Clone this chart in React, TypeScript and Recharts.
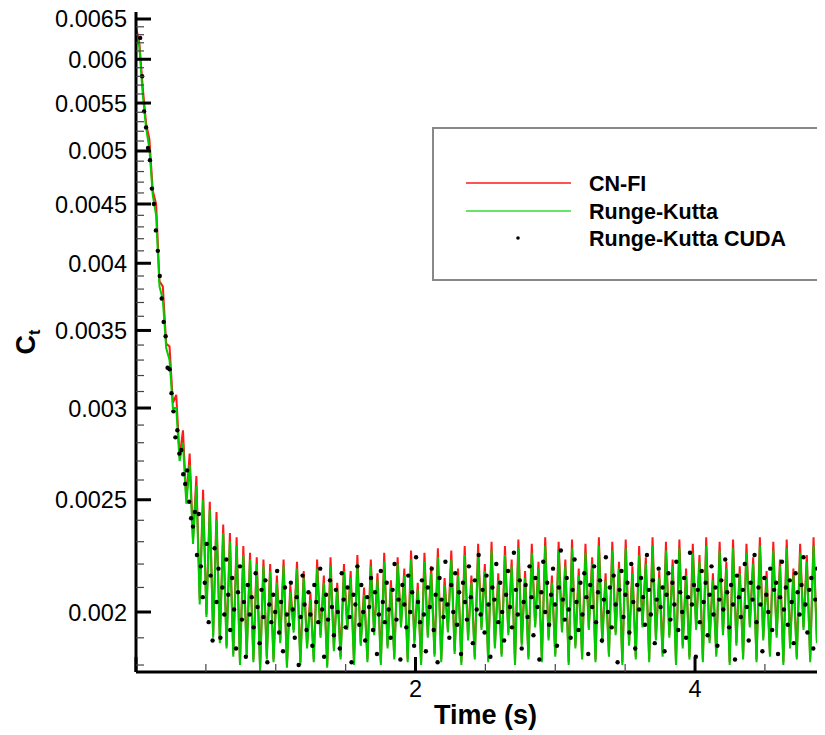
import React from "react";
import { ComposedChart, Line, Scatter, XAxis, YAxis, Legend } from "recharts";

const TIME_STEP = 0.024;
const DOT_START = 0.03;
const DOT_STEP = 0.014;

// CN-FI (red), one value every TIME_STEP seconds
const cnFi = [
  0.0064, 0.0062, 0.00568, 0.00528, 0.00512, 0.00462, 0.0045, 0.00386, 0.00382, 0.00341,
  0.00339, 0.00303, 0.00308, 0.00272, 0.00287, 0.0025, 0.00274, 0.00231, 0.00262, 0.00205,
  0.00255, 0.00199, 0.00249, 0.00191, 0.00244, 0.00189, 0.00238, 0.00187, 0.00234, 0.00184,
  0.00232, 0.00181, 0.00228, 0.00184, 0.00225, 0.00182, 0.00223, 0.00179, 0.00222, 0.00183,
  0.0022, 0.00182, 0.00215, 0.00189, 0.00222, 0.0018, 0.00211, 0.00193, 0.00221, 0.00181,
  0.00217, 0.00187, 0.00208, 0.00182, 0.00222, 0.00191, 0.00215, 0.0018, 0.00223, 0.00186,
  0.00212, 0.00183, 0.0022, 0.00194, 0.00217, 0.00181, 0.00224, 0.00188, 0.0021, 0.00182,
  0.00222, 0.00192, 0.00216, 0.00181, 0.00225, 0.00187, 0.00213, 0.00183, 0.00223, 0.00195,
  0.00218, 0.00182, 0.00226, 0.00189, 0.00212, 0.00181, 0.00225, 0.00191, 0.00219, 0.00184,
  0.00227, 0.00182, 0.00214, 0.00193, 0.00226, 0.00185, 0.00218, 0.00181, 0.00228, 0.0019,
  0.00215, 0.00183, 0.00229, 0.00194, 0.0022, 0.00182, 0.0023, 0.00187, 0.00216, 0.00184,
  0.00228, 0.00192, 0.00222, 0.00181, 0.00231, 0.00188, 0.00217, 0.00183, 0.00229, 0.00195,
  0.00221, 0.00182, 0.00232, 0.0019, 0.00215, 0.00184, 0.0023, 0.00193, 0.00222, 0.00181,
  0.00231, 0.00187, 0.00218, 0.00183, 0.00229, 0.00194, 0.00223, 0.00182, 0.00232, 0.00189,
  0.00216, 0.00184, 0.0023, 0.00192, 0.00221, 0.00181, 0.00231, 0.00188, 0.00219, 0.00183,
  0.00228, 0.00195, 0.00223, 0.00182, 0.00232, 0.0019, 0.00217, 0.00184, 0.0023, 0.00191,
  0.00222, 0.00181, 0.00231, 0.00187, 0.00218, 0.00183, 0.00229, 0.00194, 0.00224, 0.00182,
  0.00232, 0.00189, 0.00216, 0.00184, 0.0023, 0.00192, 0.00221, 0.00181, 0.00231, 0.00188,
  0.00219, 0.00183, 0.00229, 0.00195, 0.00223, 0.00182, 0.00232, 0.0019, 0.00217, 0.00184,
  0.0023, 0.00191, 0.00222, 0.00181, 0.00231, 0.00187, 0.00218, 0.00183, 0.00229, 0.00194,
  0.00224, 0.00182, 0.00232, 0.00189, 0.00216, 0.00184, 0.0023,
];

// Runge-Kutta (green), same time grid
const rungeKutta = [
  0.00632, 0.00615, 0.0056, 0.00524, 0.00502, 0.00458, 0.0044, 0.00382, 0.00372, 0.00338,
  0.0033, 0.003, 0.003, 0.0027, 0.0028, 0.00248, 0.00268, 0.00229, 0.00257, 0.00203,
  0.0025, 0.00198, 0.00245, 0.0019, 0.0024, 0.00188, 0.00234, 0.00186, 0.0023, 0.00183,
  0.00228, 0.0018, 0.00224, 0.00183, 0.00222, 0.00181, 0.0022, 0.00178, 0.00219, 0.00182,
  0.00217, 0.00181, 0.00212, 0.00188, 0.00219, 0.00179, 0.00208, 0.00192, 0.00218, 0.0018,
  0.00214, 0.00186, 0.00205, 0.00181, 0.00218, 0.0019, 0.00212, 0.00179, 0.00219, 0.00185,
  0.00209, 0.00182, 0.00217, 0.00193, 0.00214, 0.0018, 0.0022, 0.00187, 0.00207, 0.00181,
  0.00219, 0.00191, 0.00213, 0.0018, 0.00221, 0.00186, 0.0021, 0.00182, 0.0022, 0.00194,
  0.00215, 0.00181, 0.00222, 0.00188, 0.00209, 0.0018, 0.00221, 0.0019, 0.00216, 0.00183,
  0.00223, 0.00181, 0.00211, 0.00192, 0.00222, 0.00184, 0.00215, 0.0018, 0.00224, 0.00189,
  0.00212, 0.00182, 0.00225, 0.00193, 0.00217, 0.00181, 0.00226, 0.00186, 0.00213, 0.00183,
  0.00224, 0.00191, 0.00219, 0.0018, 0.00227, 0.00187, 0.00214, 0.00182, 0.00225, 0.00194,
  0.00218, 0.00181, 0.00228, 0.00189, 0.00212, 0.00183, 0.00226, 0.00192, 0.00219, 0.0018,
  0.00227, 0.00186, 0.00215, 0.00182, 0.00225, 0.00193, 0.0022, 0.00181, 0.00228, 0.00188,
  0.00213, 0.00183, 0.00226, 0.00191, 0.00218, 0.0018, 0.00227, 0.00187, 0.00216, 0.00182,
  0.00224, 0.00194, 0.0022, 0.00181, 0.00228, 0.00189, 0.00214, 0.00183, 0.00226, 0.0019,
  0.00219, 0.0018, 0.00227, 0.00186, 0.00215, 0.00182, 0.00225, 0.00193, 0.00221, 0.00181,
  0.00228, 0.00188, 0.00213, 0.00183, 0.00226, 0.00191, 0.00218, 0.0018, 0.00227, 0.00187,
  0.00216, 0.00182, 0.00225, 0.00194, 0.0022, 0.00181, 0.00228, 0.00189, 0.00214, 0.00183,
  0.00226, 0.0019, 0.00219, 0.0018, 0.00227, 0.00186, 0.00215, 0.00182, 0.00225, 0.00193,
  0.00221, 0.00181, 0.00228, 0.00188, 0.00213, 0.00183, 0.00226,
];

// Runge-Kutta CUDA (black dots), from DOT_START every DOT_STEP seconds
const rungeKuttaCuda = [
  0.00626, 0.0058, 0.00541, 0.00524, 0.00503, 0.00491, 0.00464, 0.0045, 0.00427, 0.0041,
  0.0039, 0.00373, 0.00356, 0.00346, 0.00325, 0.00324, 0.00309, 0.00298, 0.00283, 0.00287,
  0.00274, 0.00276, 0.00263, 0.00258, 0.00265, 0.00249, 0.00241,
  0.00237, 0.00244, 0.00224, 0.00243, 0.00219, 0.00206, 0.00212, 0.00229, 0.00196, 0.00215,
  0.00189, 0.00227, 0.00204, 0.00218, 0.0019, 0.0021, 0.00199, 0.00222, 0.00207, 0.00193,
  0.00214, 0.00201, 0.00186, 0.00208, 0.00219, 0.00197, 0.00204, 0.00183, 0.00211, 0.00199,
  0.00206, 0.00194, 0.00216, 0.00202, 0.00188, 0.00209, 0.00198, 0.00213, 0.00181, 0.00203,
  0.00196, 0.00207, 0.002, 0.00217, 0.00192, 0.00204, 0.00185, 0.0021, 0.00199, 0.00195,
  0.00212, 0.00201, 0.0019, 0.00206, 0.0018, 0.00198, 0.00215, 0.00203, 0.00193, 0.00208,
  0.00199, 0.00187, 0.00211, 0.00204, 0.00196, 0.00218, 0.00201, 0.00183, 0.00207, 0.00197,
  0.00213, 0.00202, 0.00191, 0.00209, 0.002, 0.00186, 0.00216, 0.00205, 0.00194, 0.0021,
  0.00198, 0.00181, 0.00207, 0.00203, 0.00219, 0.00195, 0.00211, 0.002, 0.00189, 0.00206,
  0.00202, 0.00214, 0.00193, 0.00208, 0.00184, 0.00199, 0.00217, 0.00204, 0.00196, 0.00212,
  0.00201, 0.0019, 0.00209, 0.0022, 0.00197, 0.00205, 0.00182, 0.00211, 0.00203, 0.00194,
  0.00215, 0.002, 0.00208, 0.00187, 0.00223, 0.00204, 0.00196, 0.00213, 0.00199, 0.00185,
  0.0021, 0.00202, 0.00218, 0.00193, 0.00207, 0.00181, 0.00214, 0.00205, 0.00198, 0.00221,
  0.00203, 0.0019, 0.00211, 0.002, 0.00216, 0.00195, 0.00208, 0.00184, 0.00212, 0.00204,
  0.00197, 0.00219, 0.00206, 0.00188, 0.00213, 0.00201, 0.00224, 0.00199, 0.00209, 0.00192,
  0.00215, 0.00203, 0.00183, 0.0021, 0.00205, 0.0022, 0.00196, 0.00212, 0.002, 0.00189,
  0.00207, 0.00217, 0.00202, 0.00194, 0.00225, 0.00209, 0.00199, 0.00213, 0.00186, 0.00204,
  0.00211, 0.00198, 0.00219, 0.00206, 0.00191, 0.00214, 0.00202, 0.00182, 0.00208, 0.00221,
  0.002, 0.00212, 0.00195, 0.00207, 0.00218, 0.00203, 0.00187, 0.0021, 0.00226, 0.00205,
  0.00197, 0.00214, 0.00201, 0.0019, 0.00209, 0.00222, 0.00204, 0.00193, 0.00212, 0.00199,
  0.00216, 0.00206, 0.00184, 0.00211, 0.00202, 0.00219, 0.00196, 0.00208, 0.00213, 0.00189,
  0.00205, 0.00223, 0.002, 0.0021, 0.00194, 0.00215, 0.00203, 0.00181, 0.00209, 0.00217,
  0.00198, 0.00207, 0.00212, 0.00192, 0.0022, 0.00204, 0.00186, 0.00211, 0.00201, 0.00214,
  0.00206, 0.00195, 0.00224, 0.00209, 0.00199, 0.00213, 0.00188, 0.00205, 0.00218, 0.00202,
  0.0021, 0.00185, 0.00207, 0.00216, 0.00197, 0.00212, 0.00203, 0.00221, 0.00193, 0.00208,
  0.002, 0.00214, 0.0019, 0.00206, 0.00225, 0.00203, 0.00211, 0.00183, 0.00209, 0.00196,
  0.00217, 0.00204, 0.00212, 0.00191, 0.00207, 0.00219, 0.00199, 0.0021, 0.00187, 0.00205,
  0.00213, 0.00201, 0.00222, 0.00208, 0.00194, 0.00211, 0.00203, 0.00182, 0.00215, 0.00206,
  0.00198, 0.00209, 0.0022, 0.00202, 0.00189, 0.00212, 0.00205, 0.00224, 0.00196, 0.0021,
  0.00203, 0.00185, 0.00214, 0.00207, 0.002, 0.00218, 0.00193, 0.00209, 0.00212, 0.00184,
  0.00206, 0.00221, 0.00201, 0.0021, 0.00195, 0.00213, 0.00204, 0.00188, 0.00216, 0.00208,
  0.00199, 0.00211, 0.00223, 0.00203, 0.00192, 0.00209, 0.00214, 0.00186, 0.00205, 0.00218,
  0.00201, 0.0021, 0.00196, 0.00207,
];

const yMajorTicks = [0.002, 0.0025, 0.003, 0.0035, 0.004, 0.0045, 0.005, 0.0055, 0.006, 0.0065];
const yMinorTicks = [
  0.0018, 0.0019, 0.0021, 0.0022, 0.0023, 0.0024, 0.0026, 0.0027, 0.0028, 0.0029,
  0.0031, 0.0032, 0.0033, 0.0034, 0.0036, 0.0037, 0.0038, 0.0039, 0.0041, 0.0042,
  0.0043, 0.0044, 0.0046, 0.0047, 0.0048, 0.0049, 0.0051, 0.0052, 0.0053, 0.0054,
  0.0056, 0.0057, 0.0058, 0.0059, 0.0061, 0.0062, 0.0063, 0.0064,
];
const xMajorTicks = [0, 2, 4];
const xMinorTicks = [0.5, 1, 1.5, 2.5, 3, 3.5, 4.5];
const xLabeled = [2, 4];

const RED = "#ff1a1a";
const GREEN = "#00cc00";
const FONT = "'Liberation Sans', Arial, Helvetica, sans-serif";

const rows = rungeKutta.map((v, i) => ({
  t: Number((i * TIME_STEP).toFixed(3)),
  rk: v,
  cn: cnFi[i],
}));

const dotRows = rungeKuttaCuda.map((v, i) => ({
  t: Number((DOT_START + i * DOT_STEP).toFixed(3)),
  cuda: v,
}));

const isIn = (list: number[], v: number) => list.some((m) => Math.abs(m - v) < 1e-9);

function YTick(props: any) {
  const { x, y, payload } = props;
  const v = payload.value;
  const major = isIn(yMajorTicks, v);
  return (
    <g>
      <line
        x1={x}
        x2={x + (major ? 15 : 8)}
        y1={y}
        y2={y}
        stroke={major ? "#000" : "#444"}
        strokeWidth={major ? 3 : 1.2}
      />
      {major && (
        <text x={x - 9} y={y + 8.5} textAnchor="end" fontSize={23.5} fontFamily={FONT} fill="#000">
          {String(v)}
        </text>
      )}
    </g>
  );
}

function XTick(props: any) {
  const { x, y, payload } = props;
  const v = payload.value;
  const major = isIn(xMajorTicks, v);
  return (
    <g>
      <line
        x1={x}
        x2={x}
        y1={y}
        y2={y - (major ? 15 : 8)}
        stroke={major ? "#000" : "#444"}
        strokeWidth={major ? 3 : 1.2}
      />
      {isIn(xLabeled, v) && (
        <text x={x} y={y + 25} textAnchor="middle" fontSize={23.5} fontFamily={FONT} fill="#000">
          {String(v)}
        </text>
      )}
    </g>
  );
}

function TimeLabel(props: any) {
  const vb = props.viewBox ?? { x: 136, y: 672, width: 689, height: 63 };
  return (
    <text
      x={vb.x + vb.width / 2 + 5}
      y={vb.y + 52}
      textAnchor="middle"
      fontSize={27}
      fontWeight="bold"
      fontFamily={FONT}
      fill="#000"
    >
      Time (s)
    </text>
  );
}

function CtLabel(props: any) {
  const vb = props.viewBox ?? { x: 0, y: 12, width: 136, height: 660 };
  const cx = vb.x + 35;
  const cy = vb.y + vb.height / 2;
  return (
    <text
      x={cx}
      y={cy}
      transform={`rotate(-90 ${cx} ${cy})`}
      textAnchor="middle"
      fontSize={27}
      fontWeight="bold"
      fontFamily={FONT}
      fill="#000"
    >
      <tspan>C</tspan>
      <tspan fontSize={16} dy={5}>t</tspan>
    </text>
  );
}

function LegendBox() {
  return (
    <svg width={392} height={154} style={{ display: "block" }}>
      <rect x={1} y={1} width={390} height={152} fill="#fff" stroke="#888" strokeWidth={2} />
      <line x1={34} x2={139} y1={56} y2={56} stroke={RED} strokeWidth={1.5} />
      <line x1={34} x2={139} y1={84} y2={84} stroke="#33dd33" strokeWidth={1.5} />
      <circle cx={86} cy={111} r={1.8} fill="#000" />
      <g fontSize={21.5} fontWeight="bold" fontFamily={FONT} fill="#000">
        <text x={157} y={64}>CN-FI</text>
        <text x={157} y={92}>Runge-Kutta</text>
        <text x={157} y={119}>Runge-Kutta CUDA</text>
      </g>
    </svg>
  );
}

export default function App() {
  // the chart sits flush with the page's top-left corner
  return (
    <div style={{ margin: "-8px 0 0 -8px", width: 825, height: 735 }}>
      <ComposedChart
        width={825}
        height={735}
        data={rows}
        margin={{ top: 12, right: 0, bottom: 0, left: 0 }}
      >
        <XAxis
          dataKey="t"
          type="number"
          domain={[0, 4.93]}
          allowDataOverflow
          ticks={[...xMajorTicks, ...xMinorTicks].sort((a, b) => a - b)}
          interval={0}
          tickSize={0}
          tickMargin={0}
          tickLine={false}
          tick={<XTick />}
          axisLine={{ stroke: "#000", strokeWidth: 3 }}
          height={63}
          label={<TimeLabel />}
        />
        <YAxis
          type="number"
          scale="log"
          domain={[0.0017752, 0.006591]}
          allowDataOverflow
          ticks={[...yMajorTicks, ...yMinorTicks].sort((a, b) => a - b)}
          interval={0}
          tickSize={0}
          tickMargin={0}
          tickLine={false}
          tick={<YTick />}
          axisLine={{ stroke: "#000", strokeWidth: 3 }}
          width={136}
          label={<CtLabel />}
        />
        <Legend
          layout="vertical"
          align="center"
          verticalAlign="middle"
          width={392}
          height={154}
          wrapperStyle={{ left: 432, top: 127, width: 392, height: 154 }}
          content={() => <LegendBox />}
        />
        <Line
          dataKey="cn"
          name="CN-FI"
          stroke={RED}
          strokeWidth={2}
          dot={false}
          activeDot={false}
          isAnimationActive={false}
        />
        <Line
          dataKey="rk"
          name="Runge-Kutta"
          stroke={GREEN}
          strokeWidth={2}
          dot={false}
          activeDot={false}
          isAnimationActive={false}
        />
        <Scatter
          data={dotRows}
          dataKey="cuda"
          name="Runge-Kutta CUDA"
          fill="#000"
          isAnimationActive={false}
          shape={(p: any) => <circle cx={p.cx} cy={p.cy} r={2.2} fill="#000" />}
        />
      </ComposedChart>
    </div>
  );
}
